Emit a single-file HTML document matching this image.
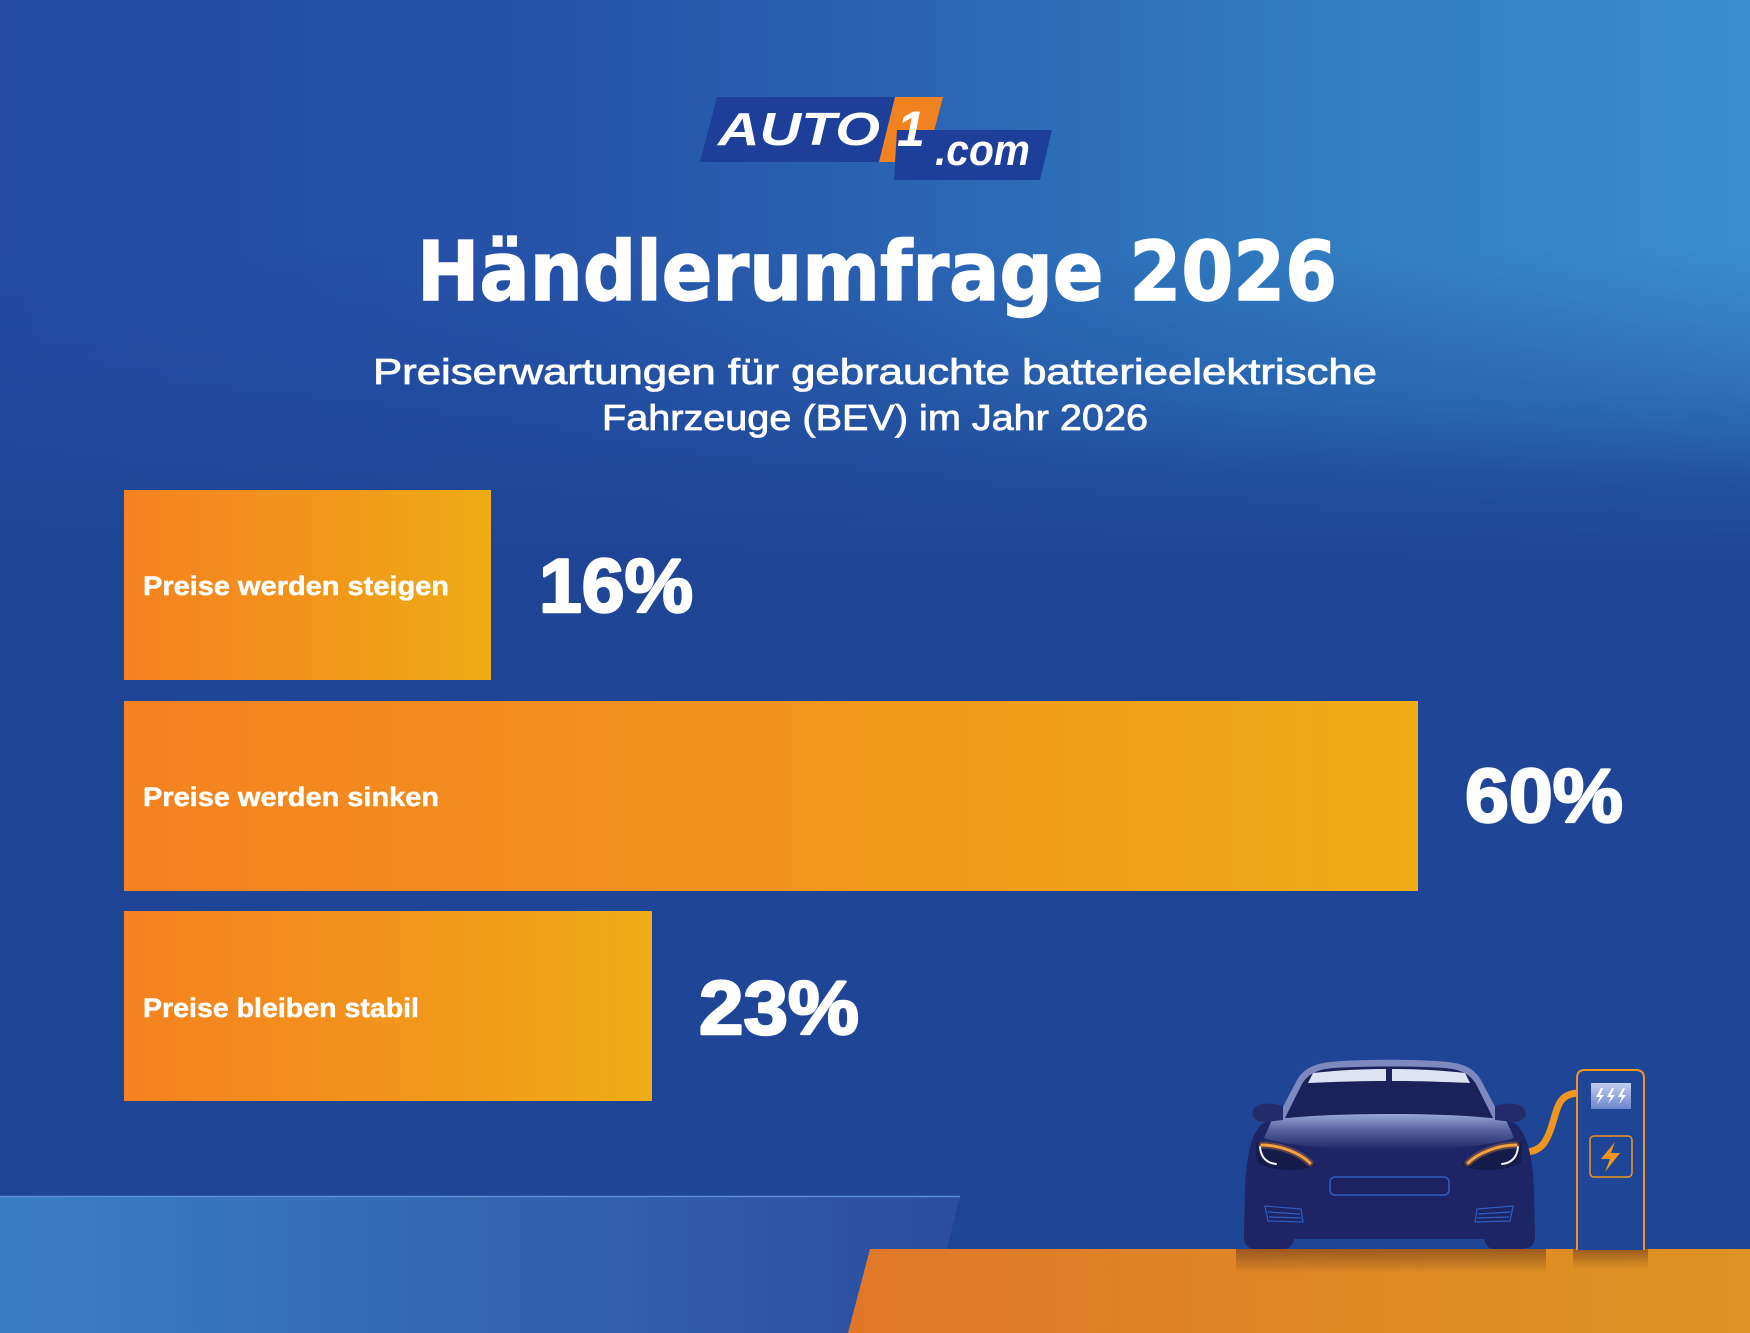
<!DOCTYPE html>
<html><head><meta charset="utf-8"><style>
html,body{margin:0;padding:0;background:#1f4597;overflow:hidden;}
svg{display:block;}
</style></head><body>
<svg width="1750" height="1333" viewBox="0 0 1750 1333" xmlns="http://www.w3.org/2000/svg">
<defs>
 <linearGradient id="topH" x1="0" x2="1" y1="0" y2="0">
  <stop offset="0" stop-color="#234ba3"/>
  <stop offset="0.31" stop-color="#2553a8"/>
  <stop offset="0.5" stop-color="#2b61b1"/>
  <stop offset="0.69" stop-color="#2f77be"/>
  <stop offset="1" stop-color="#3a8ecf"/>
 </linearGradient>
 <linearGradient id="fadeV" x1="0" x2="0" y1="0" y2="1">
  <stop offset="0" stop-color="#fff"/>
  <stop offset="0.45" stop-color="#fff"/>
  <stop offset="0.7" stop-color="#999"/>
  <stop offset="0.85" stop-color="#333"/>
  <stop offset="1" stop-color="#000"/>
 </linearGradient>
 <mask id="m" maskUnits="userSpaceOnUse" x="0" y="0" width="1750" height="560">
  <rect x="0" y="0" width="1750" height="560" fill="url(#fadeV)"/>
 </mask>
 <linearGradient id="bar" x1="0" x2="1" y1="0" y2="0">
  <stop offset="0" stop-color="#f4821f"/>
  <stop offset="0.5" stop-color="#f2941c"/>
  <stop offset="1" stop-color="#eeac16"/>
 </linearGradient>
 <linearGradient id="blueL" x1="0" x2="1" y1="0" y2="0">
  <stop offset="0" stop-color="#3a7fc4"/>
  <stop offset="0.5" stop-color="#3465b0"/>
  <stop offset="1" stop-color="#2c4d9f"/>
 </linearGradient>
 <linearGradient id="ground" x1="0" x2="1" y1="0" y2="0">
  <stop offset="0" stop-color="#e07728"/>
  <stop offset="0.5" stop-color="#df8727"/>
  <stop offset="1" stop-color="#dd9422"/>
 </linearGradient>
 <linearGradient id="shad" x1="0" x2="0" y1="0" y2="1">
  <stop offset="0" stop-color="#6e3a1c" stop-opacity="0.6"/>
  <stop offset="1" stop-color="#6e3a1c" stop-opacity="0"/>
 </linearGradient>
 <linearGradient id="hood" x1="0" x2="0" y1="0" y2="1">
  <stop offset="0" stop-color="#9aa7d6"/>
  <stop offset="0.45" stop-color="#56639f"/>
  <stop offset="1" stop-color="#1e2564"/>
 </linearGradient>
 <linearGradient id="scr" x1="0" x2="0" y1="0" y2="1">
  <stop offset="0" stop-color="#c3cdec"/>
  <stop offset="1" stop-color="#6a86cc"/>
 </linearGradient>
</defs>

<!-- background -->
<rect x="0" y="0" width="1750" height="1333" fill="#1f4597"/>
<rect x="0" y="0" width="1750" height="560" fill="url(#topH)" mask="url(#m)"/>

<!-- logo -->
<polygon points="717,97 895,97 879,162 700,162" fill="#1d3f99"/>
<polygon points="895,97 943,97 926,162 879,162" fill="#f0821f"/>
<polygon points="897,130 1052,130 1040,180 894,180" fill="#1d3f99"/>
<text x="718" y="145" font-family="Liberation Sans, sans-serif" font-weight="bold" font-style="italic" font-size="46" fill="#fff" textLength="162" lengthAdjust="spacingAndGlyphs">AUTO</text>
<text x="897" y="146" font-family="Liberation Sans, sans-serif" font-weight="bold" font-style="italic" font-size="50" fill="#fff">1</text>
<text x="935" y="165" font-family="Liberation Sans, sans-serif" font-weight="bold" font-style="italic" font-size="44" fill="#fff" textLength="95" lengthAdjust="spacingAndGlyphs">.com</text>

<!-- title -->
<text x="417" y="300" font-family="DejaVu Sans, sans-serif" font-weight="bold" font-size="82" fill="#fff" stroke="#fff" stroke-width="1.5" textLength="920" lengthAdjust="spacingAndGlyphs">Händlerumfrage 2026</text>
<text x="373" y="384" font-family="Liberation Sans, sans-serif" font-size="36" fill="#fff" stroke="#fff" stroke-width="0.8" textLength="1004" lengthAdjust="spacingAndGlyphs">Preiserwartungen für gebrauchte batterieelektrische</text>
<text x="602" y="430" font-family="Liberation Sans, sans-serif" font-size="36" fill="#fff" stroke="#fff" stroke-width="0.8" textLength="546" lengthAdjust="spacingAndGlyphs">Fahrzeuge (BEV) im Jahr 2026</text>

<!-- bars -->
<rect x="124" y="490" width="367" height="190" fill="url(#bar)"/>
<rect x="124" y="701" width="1294" height="190" fill="url(#bar)"/>
<rect x="124" y="911" width="528" height="190" fill="url(#bar)"/>

<g font-family="Liberation Sans, sans-serif" font-weight="bold" font-size="27" fill="#fff" stroke="#fff" stroke-width="0.5">
 <text x="143" y="595" textLength="306" lengthAdjust="spacingAndGlyphs">Preise werden steigen</text>
 <text x="143" y="806" textLength="296" lengthAdjust="spacingAndGlyphs">Preise werden sinken</text>
 <text x="143" y="1017" textLength="276" lengthAdjust="spacingAndGlyphs">Preise bleiben stabil</text>
</g>
<g font-family="Liberation Sans, sans-serif" font-weight="bold" font-size="76" fill="#fff" stroke="#fff" stroke-width="2.5" stroke-linejoin="round">
 <text x="539" y="612" textLength="154" lengthAdjust="spacingAndGlyphs">16%</text>
 <text x="1465" y="822" textLength="158" lengthAdjust="spacingAndGlyphs">60%</text>
 <text x="699" y="1034" textLength="160" lengthAdjust="spacingAndGlyphs">23%</text>
</g>

<!-- bottom-left light blue shape -->
<polygon points="0,1196 960,1196 926,1333 0,1333" fill="url(#blueL)"/>
<line x1="0" y1="1196.5" x2="960" y2="1196.5" stroke="#5b8fd2" stroke-width="1.5"/>

<!-- orange ground -->
<polygon points="870,1249 1750,1249 1750,1333 848,1333" fill="url(#ground)"/>
<rect x="1236" y="1249" width="310" height="24" fill="url(#shad)"/>
<rect x="1573" y="1249" width="75" height="20" fill="url(#shad)"/>

<!-- cable -->
<path d="M1580,1093 C1560,1093 1558,1105 1553,1122 C1547,1142 1542,1150 1528,1152" fill="none" stroke="#f0951e" stroke-width="7" stroke-linecap="round"/>

<!-- car -->
<path d="M1262,1124 C1280,1113 1330,1110 1389,1110 C1448,1110 1498,1113 1516,1124 C1528,1135 1533,1160 1534,1190 L1535,1236 C1535,1245 1530,1249 1522,1249 L1494,1249 C1488,1249 1486,1245 1484,1239 L1294,1239 C1292,1245 1290,1249 1284,1249 L1256,1249 C1248,1249 1244,1245 1244,1236 L1245,1190 C1246,1160 1250,1135 1262,1124 Z" fill="#1e2564"/>
<path d="M1276,1120 L1296,1082 C1302,1070 1312,1064 1330,1062 C1360,1059 1418,1059 1448,1062 C1466,1064 1476,1070 1482,1082 L1502,1120 Z" fill="#7d88bf"/>
<path d="M1285,1118 L1302,1084 C1308,1074 1318,1069 1334,1068 C1364,1066 1414,1066 1444,1068 C1460,1069 1470,1074 1476,1084 L1493,1118 Z" fill="#1b2259"/>
<path d="M1308,1083 L1313,1073 C1340,1070 1365,1069 1386,1069 L1386,1081 C1360,1081 1330,1082 1308,1083 Z" fill="#dde3f3"/>
<path d="M1470,1083 L1465,1073 C1438,1070 1413,1069 1392,1069 L1392,1081 C1418,1081 1448,1082 1470,1083 Z" fill="#dde3f3"/>
<path d="M1272,1120 C1320,1112 1458,1112 1506,1120 L1514,1138 C1470,1154 1308,1154 1264,1138 Z" fill="url(#hood)"/>
<path d="M1283,1106 C1270,1102 1256,1103 1253,1110 C1251,1118 1256,1122 1265,1122 L1283,1120 Z" fill="#242c6c"/>
<path d="M1495,1106 C1508,1102 1522,1103 1525,1110 C1527,1118 1522,1122 1513,1122 L1495,1120 Z" fill="#242c6c"/>
<!-- headlights -->
<path d="M1256,1143 C1272,1138 1300,1150 1316,1165 C1300,1173 1268,1171 1257,1162 Z" fill="#151b4a"/>
<path d="M1522,1143 C1506,1138 1478,1150 1462,1165 C1478,1173 1510,1171 1521,1162 Z" fill="#151b4a"/>
<path d="M1262,1145 C1280,1145 1300,1153 1310,1163" fill="none" stroke="#f7a040" stroke-width="7" stroke-opacity="0.3" stroke-linecap="round"/>
<path d="M1516,1145 C1498,1145 1478,1153 1468,1163" fill="none" stroke="#f7a040" stroke-width="7" stroke-opacity="0.3" stroke-linecap="round"/>
<path d="M1262,1145 C1280,1145 1300,1153 1310,1163" fill="none" stroke="#f7a040" stroke-width="3" stroke-linecap="round"/>
<path d="M1516,1145 C1498,1145 1478,1153 1468,1163" fill="none" stroke="#f7a040" stroke-width="3" stroke-linecap="round"/>
<path d="M1260,1147 C1261,1158 1267,1163 1276,1164" fill="none" stroke="#f4f0f0" stroke-width="2" stroke-linecap="round"/>
<path d="M1518,1147 C1517,1158 1511,1163 1502,1164" fill="none" stroke="#f4f0f0" stroke-width="2" stroke-linecap="round"/>
<!-- grille & vents -->
<rect x="1330" y="1177" width="119" height="18" rx="5" fill="#1c2360" stroke="#2e5fc0" stroke-width="1.5"/>
<path d="M1265,1206 L1301,1209 L1303,1222 L1268,1221 Z M1268,1212 L1300,1214 M1269,1217 L1301,1218" fill="none" stroke="#2e5fc0" stroke-width="1.2"/>
<path d="M1513,1206 L1477,1209 L1475,1222 L1510,1221 Z M1510,1212 L1478,1214 M1509,1217 L1477,1218" fill="none" stroke="#2e5fc0" stroke-width="1.2"/>

<!-- charging station -->
<path d="M1577,1250 L1577,1078 Q1577,1070 1585,1070 L1636,1070 Q1644,1070 1644,1078 L1644,1250" fill="#1f4597" stroke="#f0951e" stroke-width="2"/>
<rect x="1591" y="1083" width="40" height="26" fill="url(#scr)"/>
<g fill="#fff">
 <path d="M1601,1088 L1596,1097 L1600,1097 L1597,1104 L1604,1095 L1600,1095 L1603,1088 Z"/>
 <path d="M1612,1088 L1607,1097 L1611,1097 L1608,1104 L1615,1095 L1611,1095 L1614,1088 Z"/>
 <path d="M1623,1088 L1618,1097 L1622,1097 L1619,1104 L1626,1095 L1622,1095 L1625,1088 Z"/>
</g>
<rect x="1590" y="1136" width="42" height="41" rx="4" fill="none" stroke="#f0951e" stroke-width="1.5"/>
<path d="M1615,1142 L1601,1159 L1610,1159 L1605,1172 L1620,1153 L1611,1153 Z" fill="#f0951e"/>
</svg>
</body></html>
